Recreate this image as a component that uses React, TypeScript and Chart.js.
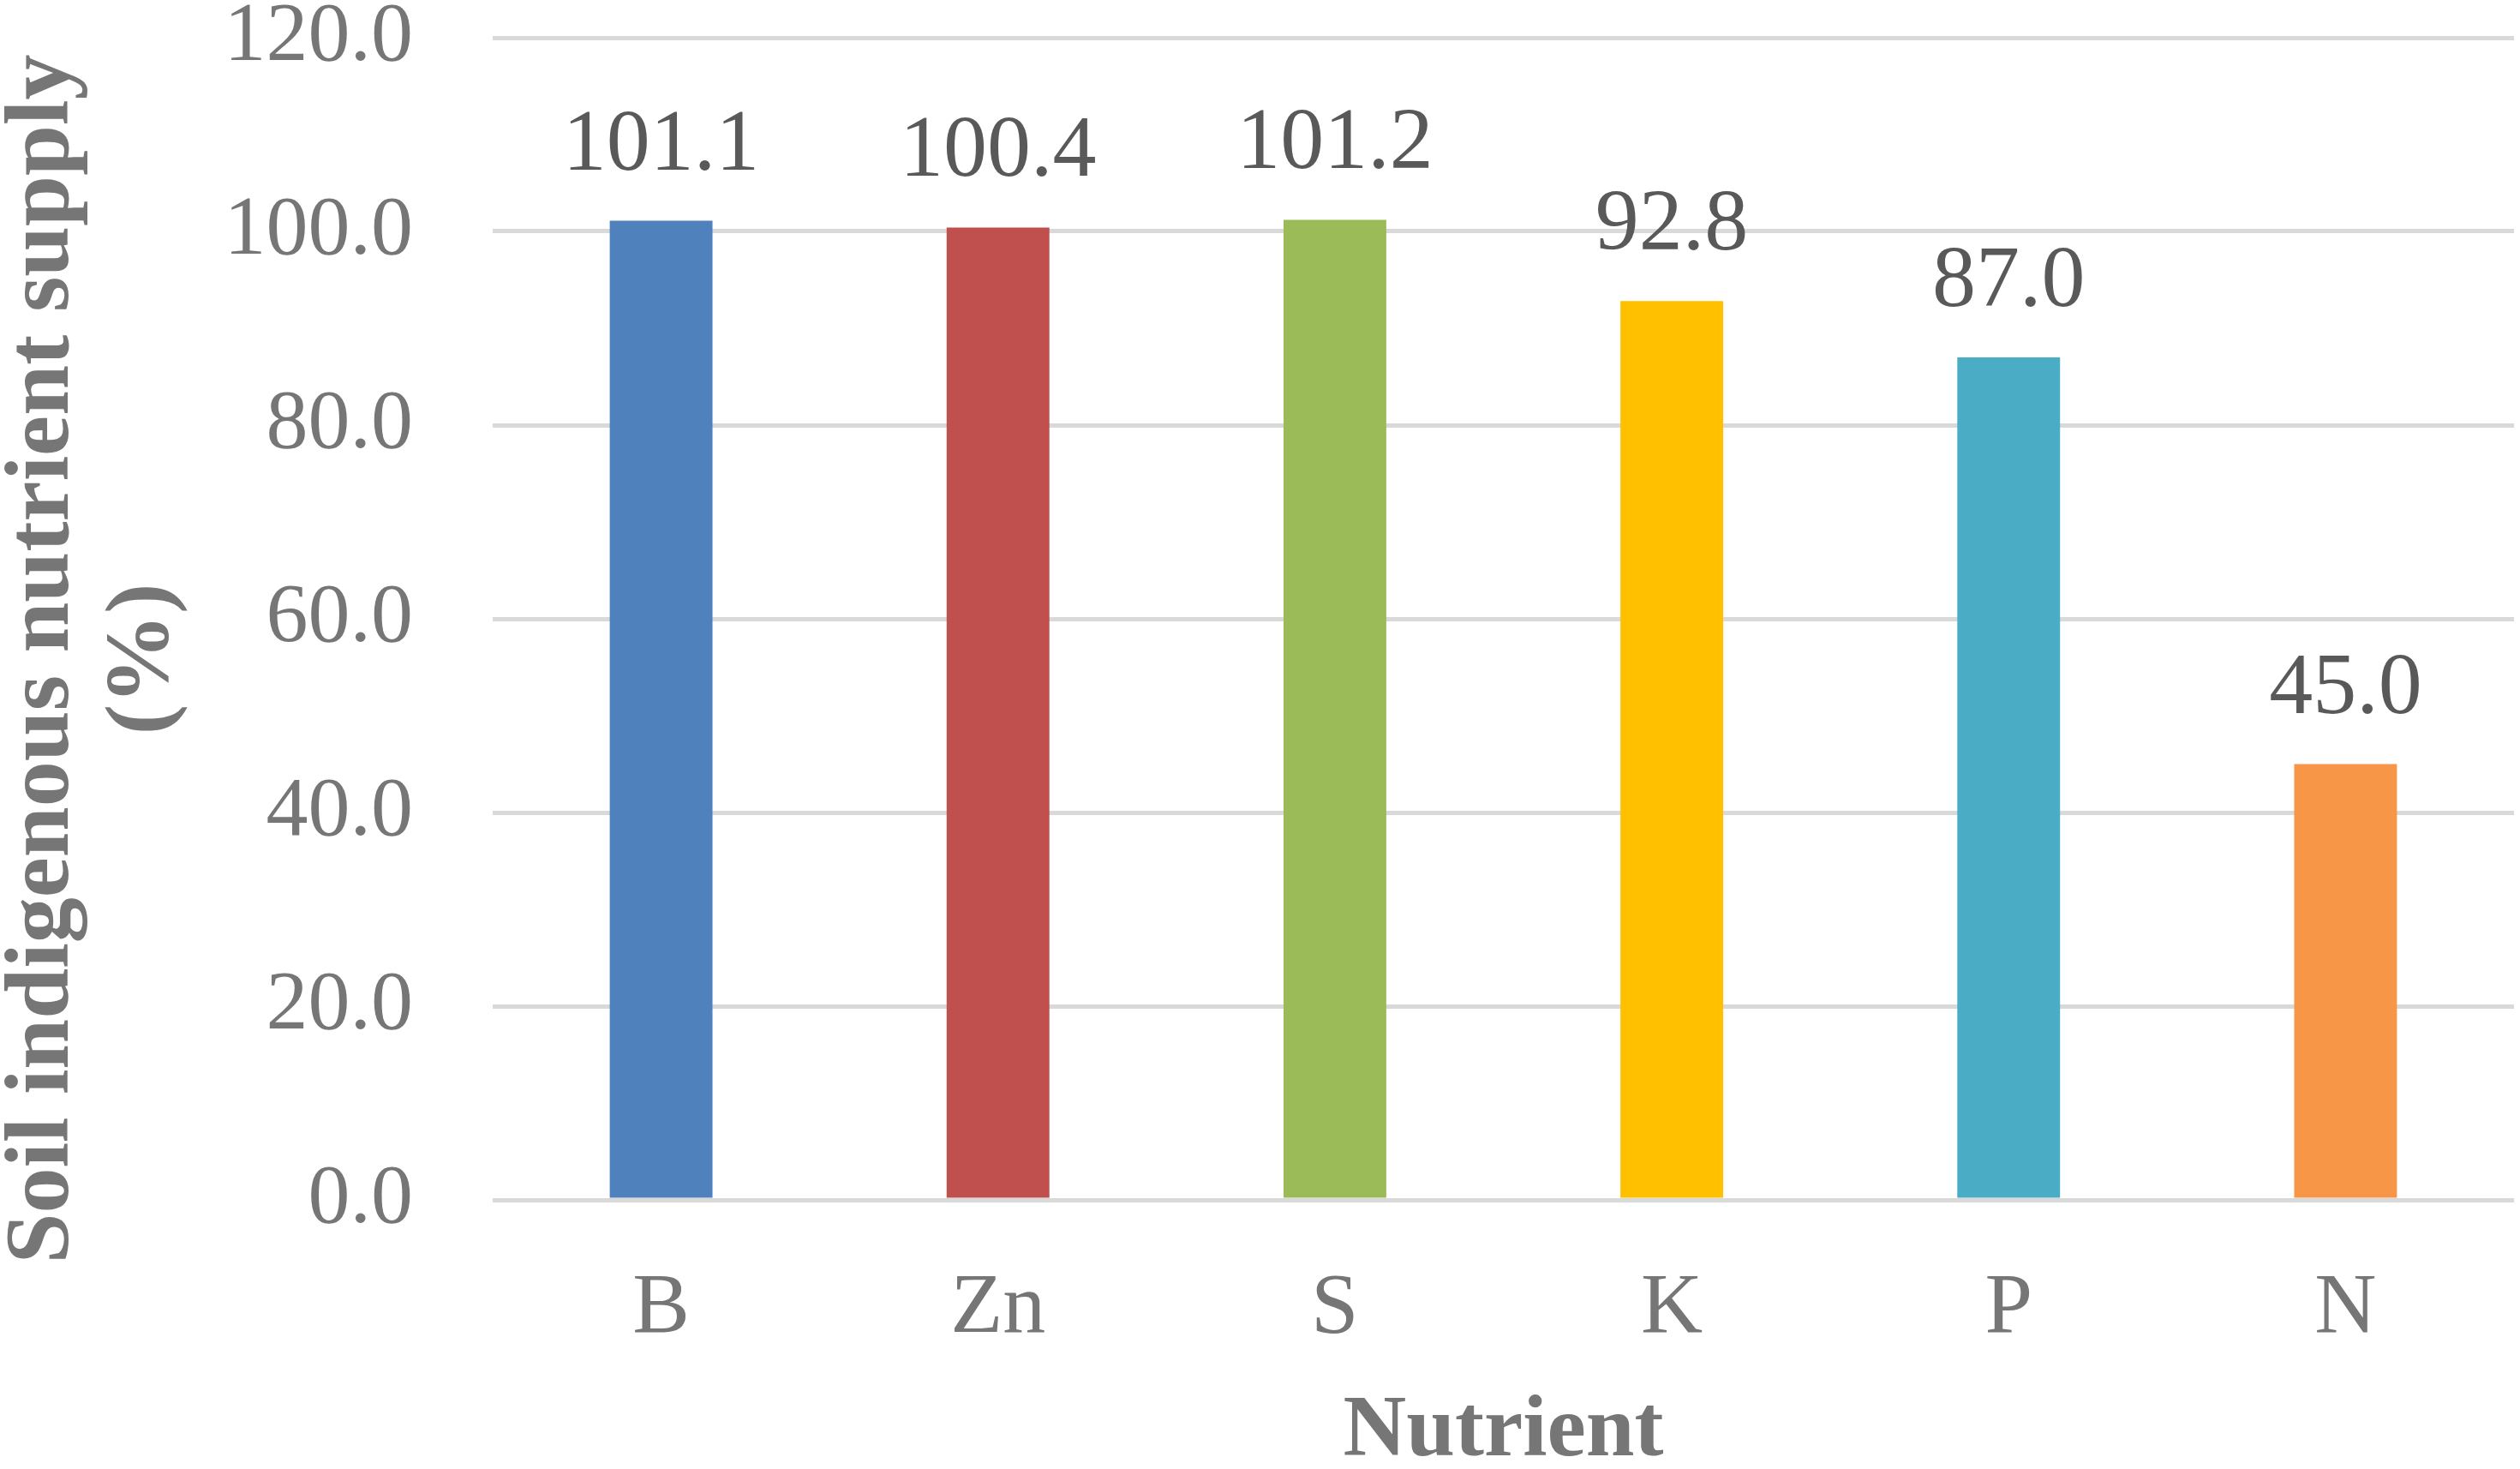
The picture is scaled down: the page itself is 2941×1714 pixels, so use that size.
import React, { useEffect, useRef } from 'react';
import { Chart, registerables } from 'chart.js';

Chart.register(...registerables);

const categories = ['B', 'Zn', 'S', 'K', 'P', 'N'];
const supplyValues = [101.1, 100.4, 101.2, 92.8, 87.0, 45.0];
const barColors = ['#4F81BD', '#C0504D', '#9BBB59', '#FFC000', '#4BACC6', '#F79646'];
const yTickValues = [0, 20, 40, 60, 80, 100, 120];
const yTitleLines = ['Soil indigenous nutrient supply', '(%)'];
const xTitle = 'Nutrient';

const FONT = "'Liberation Serif', 'Times New Roman', serif";

const dataLabelPlugin = {
  id: 'dataLabelPlugin',
  afterDatasetsDraw(chart: any) {
    const ctx = chart.ctx;
    const meta = chart.getDatasetMeta(0);
    const data = chart.data.datasets[0].data as number[];
    ctx.save();
    ctx.font = `102px ${FONT}`;
    ctx.fillStyle = '#595959';
    ctx.textAlign = 'center';
    ctx.textBaseline = 'alphabetic';
    meta.data.forEach((bar: any, i: number) => {
      ctx.fillText(data[i].toFixed(1), bar.x, bar.y - 60);
    });
    ctx.restore();
  },
};

const yTitlePlugin = {
  id: 'yTitlePlugin',
  afterDraw(chart: any) {
    const ctx = chart.ctx;
    const area = chart.chartArea;
    const cy = (area.top + area.bottom) / 2 + 47;
    const xs = [52, 169];
    ctx.save();
    ctx.font = `bold 106px ${FONT}`;
    ctx.fillStyle = '#767676';
    ctx.textAlign = 'center';
    ctx.textBaseline = 'middle';
    yTitleLines.forEach((line, i) => {
      ctx.save();
      ctx.translate(xs[i], cy);
      ctx.rotate(-Math.PI / 2);
      ctx.fillText(line, 0, 0);
      ctx.restore();
    });
    ctx.restore();
  },
};

export default function App() {
  const ref = useRef<HTMLCanvasElement>(null);

  useEffect(() => {
    document.body.style.margin = '0';
    const chart = new Chart(ref.current as HTMLCanvasElement, {
      type: 'bar',
      data: {
        labels: categories,
        datasets: [
          {
            data: supplyValues,
            backgroundColor: barColors,
            borderWidth: 0,
            barPercentage: 0.305,
            categoryPercentage: 1,
          },
        ],
      },
      options: {
        animation: false,
        responsive: false,
        devicePixelRatio: 1,
        layout: { padding: { left: 0, right: 7, top: 44, bottom: 0 } },
        plugins: {
          legend: { display: false },
          tooltip: { enabled: false },
          title: { display: false },
        },
        scales: {
          x: {
            grid: { display: false, drawTicks: false },
            border: { display: false },
            ticks: {
              color: '#767676',
              font: { family: FONT, size: 100 },
              padding: 68,
              maxRotation: 0,
            },
            title: {
              display: true,
              text: xTitle,
              color: '#767676',
              font: { family: FONT, size: 102, weight: 'bold', lineHeight: 0.84 },
              padding: { top: 0, bottom: 0 },
            },
            afterFit(scale: any) {
              scale.height = 314;
              scale.paddingLeft = 0;
              scale.paddingRight = 0;
            },
          },
          y: {
            min: 0,
            max: 120,
            grid: { color: '#D9D9D9', lineWidth: 5, drawTicks: false },
            border: { display: false },
            ticks: {
              color: '#767676',
              font: { family: FONT, size: 98 },
              padding: 93,
              callback: (v: any) => Number(v).toFixed(1),
            },
            afterBuildTicks(scale: any) {
              scale.ticks = yTickValues.map((v) => ({ value: v }));
            },
            afterFit(scale: any) {
              scale.width = 575;
              scale.paddingTop = 0;
              scale.paddingBottom = 0;
            },
          },
        },
      },
      plugins: [dataLabelPlugin, yTitlePlugin],
    } as any);
    return () => chart.destroy();
  }, []);

  return (
    <div style={{ width: 2941, height: 1714, background: '#ffffff' }}>
      <canvas
        ref={ref}
        width={2941}
        height={1714}
        style={{ display: 'block', width: 2941, height: 1714 }}
      />
    </div>
  );
}
